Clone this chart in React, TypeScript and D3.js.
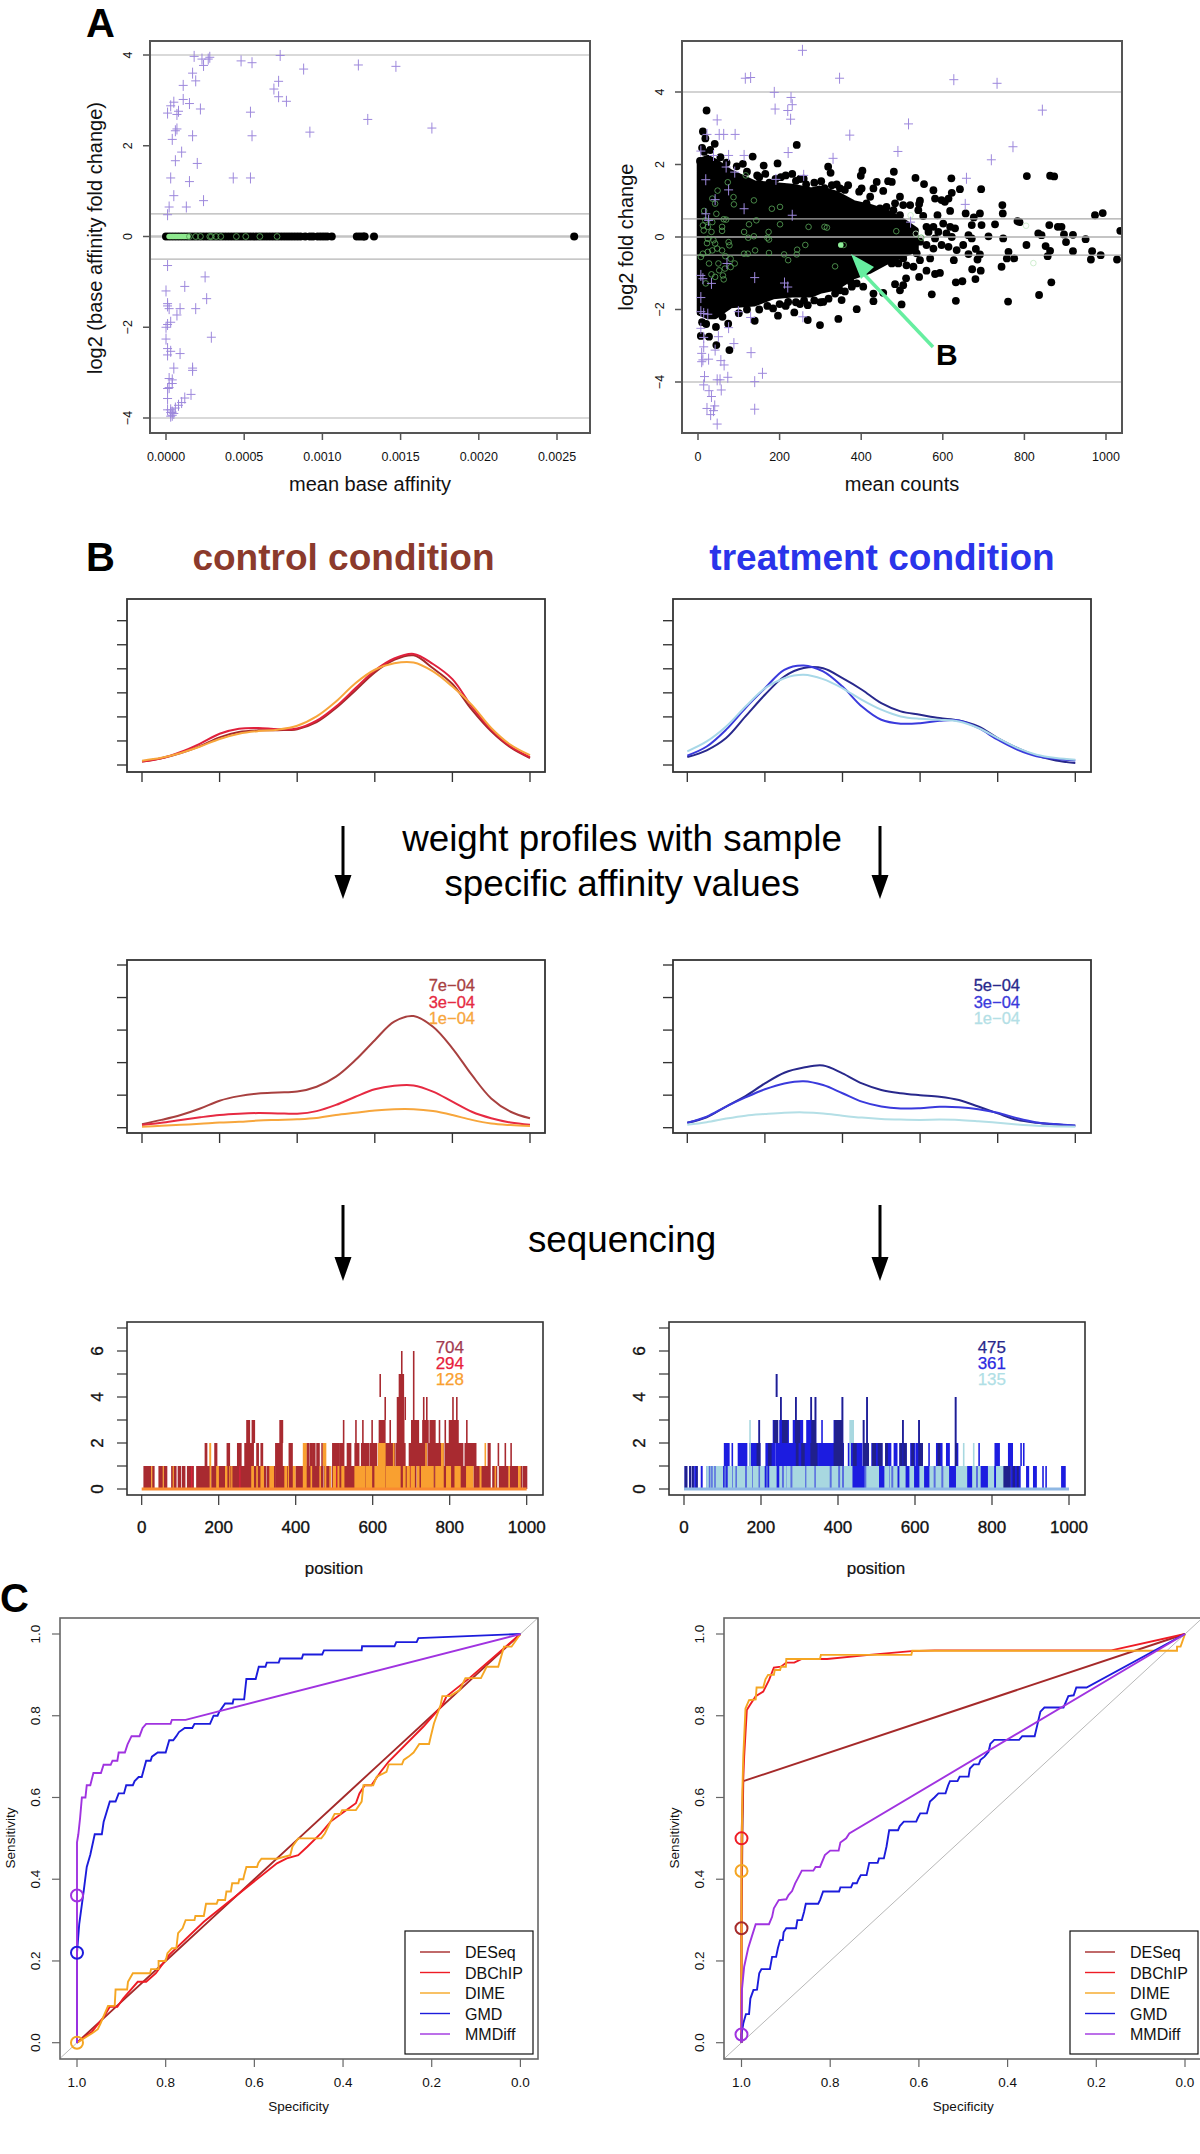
import * as d3 from "d3";

const FONT = "'Liberation Sans', Arial, sans-serif";

// panel A, left: log2 base affinity fold change vs mean base affinity
const affinityPlus = [
  [.00018,3.97],[.00023,3.91],[.00024,3.77],[.00027,3.91],[.00028,3.95],[.00048,3.87],[.00055,3.83],[.00073,3.99],
  [.00088,3.69],[.00123,3.78],[.00147,3.75],[.00017,3.60],[.00019,3.43],[.00011,3.33],[.00072,3.42],[.00069,3.25],
  [.00072,3.08],[.00077,2.98],[.00011,3.02],[.00015,2.93],[.00005,2.96],[.00003,2.88],[.00022,2.81],[.00001,2.72],
  [.00007,2.69],[.00008,2.76],[.00054,2.74],[.00129,2.58],[.00007,2.37],[.00006,2.33],[.0017,2.39],[.00092,2.30],
  [.00017,2.22],[.00055,2.22],[.00004,2.14],[.0001,1.86],[.00006,1.67],[.0002,1.61],[.00003,1.29],[.00043,1.29],
  [.00054,1.29],[.00015,1.21],[.00005,.90],[.00024,.79],[.00002,.65],[.00013,.65],[.00001,.48],
  [.00001,-.64],[.00025,-.89],[.00012,-1.10],[0,-1.20],[.00026,-1.37],[.00001,-1.48],[.00001,-1.53],[.00002,-1.59],
  [.00009,-1.59],[.00019,-1.59],[.00007,-1.73],[.00003,-1.89],[.00001,-1.94],[0,-2.0],[.00029,-2.22],[0,-2.26],
  [.00001,-2.47],[.00003,-2.53],[.00009,-2.58],[.00001,-2.61],[.00005,-2.90],[.00017,-2.90],[.00017,-2.95],
  [.00002,-3.13],[.00004,-3.16],[.00004,-3.24],[.00002,-3.33],[.00001,-3.35],[.00001,-3.57],[.00016,-3.48],
  [.00012,-3.56],[.0001,-3.66],[.00008,-3.72],[.00006,-3.78],[.00001,-3.82],[.00003,-3.82],[.00004,-3.87],
  [.00005,-3.90],[.00003,-3.88],[.00004,-3.94],[.00003,-3.96],
];
const affinityBlack = [
  0,.00002,.00004,.00006,.00008,.0001,.00012,.00014,.00016,.00018,.0002,.00022,.00024,.00026,.00028,.0003,.00032,
  .00034,.00036,.00038,.0004,.00042,.00044,.00046,.00048,.0005,.00052,.00054,.00056,.00058,.0006,.00062,.00064,
  .00066,.00068,.0007,.00072,.00074,.00076,.00078,.0008,.00082,.00084,.00086,.00089,.00092,.00094,.00097,.00099,
  .00101,.00103,.00106,.00122,.00124,.00126,.00127,.00133,.00261,
];
const affinityGreenFill = [.00002,.00003,.00004,.00005,.00006,.00007,.00008,.00009,.0001,.00011,.00012,.00013,.00014];
const affinityGreenOpen = [.00015,.00019,.00022,.00028,.00029,.00032,.00035,.00045,.00051,.0006,.00071];

// panel A, right: log2 fold change vs mean counts
// the cloud is too dense to tell points apart, so its core is an outline read off the picture
const cloudX = [3,24,42,80,137,184,231,278,299,340,381,420,462,503,535];
const cloudTop = [2.1,2.2,2.1,1.8,1.5,1.45,1.4,1.3,1.35,1.2,.95,.85,.7,.45,.2];
const cloudBottom = [-2.1,-2.2,-2.2,-1.9,-1.85,-1.65,-1.6,-1.6,-1.5,-1.4,-1.1,-.95,-.7,-.5,-.35];
const countDots = [
  [21,3.49],[12,2.91],[18,2.72],[10,2.46],[41,2.57],[242,2.54],[134,2.22],[161,1.97],[195,2.03],[110,2.02],
  [319,1.94],[325,1.77],[403,1.83],[399,1.69],[480,1.80],[533,1.63],[621,1.62],[806,1.68],[863,1.69],[873,1.67],
  [554,1.46],[577,1.29],[642,1.32],[694,1.32],[622,1.22],[581,1.06],[597,1.02],[614,1.06],[605,.97],[544,1.0],
  [542,.91],[495,1.11],[483,.93],[503,.88],[520,.88],[475,1.52],[466,1.54],[454,1.27],[438,1.52],[430,1.34],
  [401,1.34],[395,1.25],[368,1.43],[328,1.43],[348,1.34],[422,1.11],[413,.93],[462,.83],[446,.79],[479,.74],
  [495,.60],[540,.74],[552,.58],[587,.60],[618,.72],[656,.65],[691,.65],[746,.88],[747,.65],[676,.54],[783,.44],
  [671,.33],[695,.33],[728,.35],[560,.28],[577,.28],[601,.37],[618,.28],[630,.24],[565,.14],[589,.14],[609,.10],
  [663,.05],[712,.02],[671,-.04],[581,-.04],[622,0],[544,-.13],[560,-.22],[577,-.32],[597,-.22],[614,-.27],[634,-.36],
  [650,-.22],[748,-.04],[805,-.22],[834,.10],[842,.05],[861,.33],[882,.28],[852,-.25],[863,-.38],[857,-.53],[663,-.47],
  [681,-.33],[691,-.48],[685,-.62],[627,-.64],[761,-.41],[757,-.59],[775,-.59],[744,-.82],[672,-.89],[693,-.93],
  [680,-1.16],[648,-1.22],[632,-1.25],[866,-1.25],[836,-1.6],[760,-1.78],[632,-1.76],[573,-1.58],[499,-1.86],
  [389,-1.99],[430,-1.77],[344,-2.26],[299,-2.43],[593,-.99],[581,-1.02],[560,-.93],[542,-1.1],[510,-1.14],[503,-1.33],
  [495,-1.47],[483,-1.3],[454,-1.54],[430,-1.56],[405,-1.37],[389,-1.28],[352,-1.74],[336,-1.56],[307,-1.79],[348,-1.47],
  [377,-1.37],[475,-.73],[491,-.73],[511,-.78],[528,-.82],[544,-.64],[569,-.59],[536,-.45],[503,-.59],[491,-.5],
  [973,.60],[992,.66],[1035,.17],[891,.28],[897,.07],[919,.06],[950,-.06],[902,-.14],[919,-.39],[966,-.39],[963,-.62],
  [987,-.50],[1027,-.62],[788,.41],[269,-2.29],[236,-2.08],[196,-2.17],[139,-2.31],[44,-2.48],[7,-2.73],[27,-2.75],
  [45,-2.98],[77,-3.12],[74,-2.39],[165,1.74],[203,1.65],[231,1.74],[259,1.61],[302,1.54],[184,-1.97],[221,-1.79],
  [269,-1.88],[5,2.1],[15,2.35],[30,2.4],[55,2.2],[70,2.05],[95,1.95],[120,1.8],[145,1.7],[215,1.7],[250,1.6],
  [10,-2.35],[20,-2.4],[60,-2.2],[100,-2.1],[150,-2.0],[215,-1.9],[250,-1.85],[300,-1.8],[150,1.65],[175,1.5],[190,1.6],
  [240,1.55],[265,1.45],[285,1.5],[310,1.35],[340,1.45],[360,1.3],[120,-2.0],[170,-1.9],[200,-1.85],[240,-1.8],
  [260,-1.75],[285,-1.75],[320,-1.7],[360,-1.5],[375,-1.25],
];
const countGreen = [
  [15,.72],[18,.46],[12,.32],[14,.18],[24,.28],[35,.41],[33,.14],[24,-.05],[38,-.09],[22,-.17],[42,-.18],[12,-.46],[24,-.41],
  [35,-.37],[47,-.32],[59,-.37],[67,-.53],[80,-.60],[90,-.73],[80,-.83],[66,-.87],[52,-.92],[42,-1.10],[61,-1.06],[33,-1.03],
  [50,-.73],[19,-1.28],[63,-1.17],[27,-.73],[7,-.55],[48,1.28],[73,1.51],[87,1.10],[88,.90],[35,1.06],[42,.92],[45,.64],
  [63,.49],[69,.48],[59,.28],[59,.17],[75,-.14],[77,-.23],[113,.14],[125,.35],[123,-.02],[137,.02],[137,1.01],[117,1.70],
  [113,-.46],[122,-.46],[140,-.37],[143,.46],[173,.14],[170,-.02],[174,-.07],[174,-.44],[181,.78],[201,.83],[201,.35],
  [211,-.48],[221,-.64],[243,-.35],[242,-.48],[263,-.22],[271,.28],[310,.28],[316,.26],[357,-.22],[336,-.81],[486,.16],[547,-.02],
];
const countGreenPale = [[804,.31],[822,-.72],[521,.6],[534,.09]];
const countGreenFill = [[350,-.22]];
const countPlus = [
  [256,5.15],[116,4.38],[129,4.40],[347,4.38],[627,4.34],[733,4.24],[187,3.99],[228,3.85],[231,3.65],[189,3.53],[220,3.49],
  [227,3.25],[47,3.23],[844,3.50],[516,3.12],[372,2.81],[52,2.83],[63,2.83],[91,2.83],[22,2.83],[772,2.49],[490,2.36],
  [221,2.33],[331,2.17],[719,2.13],[113,2.25],[38,2.25],[75,2.25],[7,2.37],[69,1.93],[90,1.79],[259,1.70],[191,1.59],
  [19,1.58],[658,1.62],[75,1.30],[42,1.03],[655,.90],[113,.78],[231,.60],[19,.64],[26,.46],[521,.41],
  [71,-.73],[7,-1.06],[12,-1.15],[139,-1.12],[212,-1.27],[220,-1.38],[33,-1.28],[7,-1.67],[7,-2.06],[14,-2.11],[24,-2.13],
  [99,-2.06],[129,-2.22],[257,-2.20],[75,-2.50],[7,-2.52],[50,-2.75],[14,-2.77],[88,-2.94],[130,-3.19],[14,-3.03],[9,-3.21],
  [42,-3.12],[12,-3.39],[26,-3.37],[56,-3.41],[64,-3.53],[9,-3.44],[158,-3.76],[73,-3.87],[16,-3.85],[47,-3.94],[54,-3.94],
  [139,-3.99],[14,-4.08],[27,-4.24],[57,-4.22],[33,-4.40],[41,-4.66],[139,-4.75],[22,-4.73],[38,-4.79],[31,-4.90],[47,-5.16],
];

// panel B, profile curves sampled at these positions
const profilePositions = [0,50,100,150,200,250,300,350,400,450,500,550,600,650,700,750,800,850,900,950,1000];
const controlDark = [.14,.28,.50,.79,1.15,1.37,1.44,1.45,1.49,1.78,2.37,3.10,3.85,4.37,4.56,4.02,3.37,2.30,1.40,.73,.29];
const controlRed = [.14,.28,.54,.89,1.30,1.51,1.54,1.49,1.52,1.84,2.43,3.19,3.93,4.43,4.62,4.20,3.57,2.43,1.47,.77,.33];
const controlOrange = [.18,.30,.50,.77,1.08,1.30,1.41,1.47,1.63,2.02,2.64,3.40,3.96,4.23,4.26,3.89,3.26,2.50,1.54,.84,.41];
const treatNavy = [.33,.61,1.12,2.02,2.92,3.68,4.03,4.02,3.61,3.13,2.57,2.23,2.09,1.95,1.85,1.60,1.12,.71,.39,.19,.08];
const treatBlue = [.39,.77,1.47,2.37,3.19,3.96,4.14,3.89,3.26,2.43,1.88,1.72,1.74,1.84,1.85,1.54,1.05,.64,.36,.25,.19];
const treatLight = [.57,.98,1.60,2.43,3.19,3.61,3.75,3.57,3.19,2.71,2.30,2.02,1.92,1.88,1.81,1.54,1.12,.71,.43,.29,.22];
const weightedDark = [.11,.24,.39,.59,.83,.97,1.05,1.08,1.11,1.26,1.57,2.08,2.69,3.26,3.43,3.10,2.44,1.62,.90,.49,.29];
const weightedRed = [.08,.15,.24,.32,.39,.43,.45,.44,.43,.51,.70,.95,1.18,1.29,1.30,1.11,.80,.49,.29,.16,.09];
const weightedOrange = [.03,.06,.09,.12,.16,.18,.22,.24,.26,.30,.39,.46,.53,.57,.57,.51,.39,.24,.13,.08,.05];
const weightedNavy = [.15,.32,.65,.97,1.36,1.69,1.85,1.91,1.67,1.36,1.16,1.06,1.00,.95,.85,.65,.44,.24,.15,.10,.06];
const weightedBlue = [.15,.34,.65,.93,1.18,1.36,1.43,1.31,1.06,.80,.65,.59,.60,.64,.63,.57,.46,.29,.16,.11,.07];
const weightedLight = [.09,.17,.28,.37,.42,.46,.47,.44,.37,.31,.27,.25,.24,.25,.24,.20,.15,.10,.06,.04,.03];

// panel B, read counts: [first position, last position] of the runs that reach each height
const controlReads = [
  [[6,23],[28,32],[45,54],[58,65],[78,89],[95,101],[106,112],[119,134],[143,151],[153,177],[182,216],[221,300],[303,322],[326,345],[348,372],[378,398],[402,440],[444,470],[474,490],[495,640],[644,648],[652,700],[704,712],[716,760],[763,860],[864,868],[870,879],[883,905],[912,922],[929,952],[958,976],[983,987],[991,1000]],
  [[165,169],[190,195],[222,228],[249,258],[268,290],[299,303],[310,314],[348,365],[383,391],[429,433],[437,442],[444,450],[455,461],[468,469],[496,513],[515,525],[534,543],[554,564],[571,589],[593,610],[615,658],[662,684],[695,740],[744,783],[788,834],[840,857],[859,868],[900,905],[926,927],[944,945],[959,960]],
  [[273,280],[287,293],[359,366],[524,525],[556,557],[574,575],[598,599],[617,632],[645,646],[664,681],[701,719],[730,744],[749,762],[773,774],[788,789],[799,822],[844,845]],
  [[632,633],[664,680],[684,685],[706,707],[732,733],[740,741],[808,809],[818,819]],
  [[619,620],[669,680],[706,707]],
  [[675,676],[706,707]],
];
const controlRedReads = [[[130,130],[255,255],[500,505],[610,612],[700,702]]];
const controlOrangeReads = [
  [[26,26],[56,56],[82,82],[178,179],[195,199],[218,221],[229,229],[234,234],[286,290],[299,300],[310,316],[333,342],[372,376],[381,381],[394,398],[420,427],[440,441],[463,464],[476,478],[489,490],[498,503],[510,512],[520,525],[554,580],[584,597],[606,632],[636,671],[680,684],[690,695],[700,708],[716,720],[727,757],[764,783],[792,802],[814,827],[844,860],[879,881],[918,919],[954,955],[979,983]],
  [[177,179],[420,427],[472,478],[615,632],[654,655],[738,739],[779,783],[892,893]],
];
const treatReads = [
  [[3,7],[15,17],[22,24],[28,30],[33,34],[45,47],[59,720],[722,800],[804,847],[851,873],[890,895],[908,915],[932,933],[940,941],[981,990]],
  [[105,117],[125,126],[141,163],[171,197],[213,236],[239,290],[293,349],[352,388],[390,414],[427,462],[466,479],[488,514],[524,537],[546,553],[561,577],[589,600],[604,619],[636,637],[656,670],[682,689],[705,711],[766,767],[808,819],[843,853],[875,876],[882,883]],
  [[195,196],[232,243],[249,271],[284,308],[319,342],[358,359],[390,412],[466,467],[475,476],[568,569],[610,611],[705,706]],
  [[251,252],[290,291],[330,331],[341,342],[411,412],[475,476],[705,706]],
  [[240,241]],
];
const treatNavyReads = [
  [[3,7],[15,17],[22,24],[33,34],[828,847],[855,858],[866,868]],
  [[171,172],[190,197],[220,226],[292,296],[306,312],[330,345],[390,413],[440,447],[466,479],[490,497],[505,514],[524,528],[561,566],[571,577],[592,596],[610,619],[660,664],[705,708]],
  [[195,196],[234,243],[256,268],[290,300],[332,342],[392,412],[466,467],[475,476],[568,569],[610,611],[705,706]],
  [[251,252],[290,291],[330,331],[341,342],[411,412],[475,476],[705,706]],
  [[240,241]],
];
const treatLightReads = [
  [[59,87],[89,100],[115,124],[128,144],[147,176],[180,208],[223,239],[249,265],[268,314],[319,436],[474,505],[522,531],[535,553],[561,574],[587,596],[613,622],[639,687],[708,734],[750,769],[791,804],[812,828]],
  [[171,172],[431,432],[726,727],[752,753]],
  [[171,172],[431,440]],
];
const treatBlueInLight = [[[66,67],[72,73],[80,81],[106,108],[135,136],[160,162],[195,196],[215,216],[256,258],[278,280],[340,341],[380,382],[402,404],[412,414],[470,472],[540,542],[650,652],[670,672],[760,762]]];

// panel C, ROC curves as [specificity, sensitivity]
const rocLeftDeseq = [[1,0],[.9,.1],[.8,.2],[.7,.3],[.6,.4],[.5,.5],[.4,.6],[.3,.7],[.2,.8],[.1,.9],[0,1]];
const rocLeftDbchip = [[1,0],[.966,.027],[.939,.064],[.926,.088],[.909,.088],[.896,.108],[.863,.149],[.844,.149],[.822,.17],[.792,.215],[.714,.296],[.549,.439],[.527,.451],[.501,.459],[.48,.48],[.45,.512],[.428,.541],[.393,.569],[.371,.586],[.363,.61],[.351,.63],[.336,.63],[.315,.663],[.297,.688],[.219,.773],[.176,.826],[.167,.847],[.115,.892],[.037,.965],[0,1]];
const rocLeftDime = [[1,0],[.966,.023],[.953,.033],[.947,.047],[.93,.09],[.915,.09],[.913,.13],[.887,.13],[.885,.149],[.874,.17],[.835,.17],[.833,.18],[.816,.18],[.816,.2],[.8,.2],[.796,.219],[.786,.231],[.776,.231],[.772,.268],[.762,.28],[.755,.30],[.735,.30],[.733,.31],[.714,.31],[.709,.34],[.685,.34],[.682,.349],[.666,.349],[.663,.37],[.653,.37],[.65,.39],[.636,.39],[.634,.40],[.625,.40],[.623,.41],[.618,.43],[.594,.43],[.591,.44],[.584,.45],[.549,.45],[.519,.459],[.514,.48],[.501,.50],[.449,.50],[.441,.512],[.428,.541],[.419,.56],[.406,.56],[.402,.569],[.371,.569],[.358,.59],[.354,.63],[.332,.63],[.324,.651],[.302,.663],[.297,.681],[.267,.681],[.263,.692],[.252,.70],[.241,.71],[.228,.731],[.206,.731],[.202,.75],[.195,.781],[.18,.826],[.176,.848],[.159,.848],[.137,.863],[.124,.892],[.089,.892],[.076,.92],[.05,.92],[.037,.969],[.02,.969],[0,1]];
const rocLeftGmd = [[1,0],[1,.22],[.995,.29],[.985,.37],[.978,.43],[.97,.46],[.96,.51],[.944,.51],[.94,.54],[.926,.59],[.913,.59],[.906,.61],[.894,.61],[.889,.63],[.874,.63],[.87,.64],[.861,.65],[.854,.65],[.844,.69],[.834,.69],[.831,.70],[.818,.71],[.80,.71],[.792,.74],[.783,.74],[.776,.75],[.77,.76],[.757,.77],[.74,.77],[.735,.78],[.70,.78],[.692,.80],[.683,.80],[.679,.81],[.666,.83],[.649,.83],[.647,.84],[.623,.84],[.618,.89],[.597,.89],[.59,.92],[.575,.92],[.572,.93],[.545,.93],[.542,.94],[.493,.94],[.49,.95],[.447,.95],[.443,.96],[.358,.96],[.357,.97],[.284,.97],[.28,.98],[.234,.98],[.23,.99],[0,1]];
const rocLeftMmdiff = [[1,0],[1,.36],[1,.49],[.997,.51],[.993,.55],[.989,.60],[.981,.60],[.978,.63],[.97,.63],[.963,.66],[.946,.66],[.94,.68],[.924,.68],[.92,.69],[.909,.69],[.906,.71],[.892,.71],[.886,.73],[.877,.75],[.859,.75],[.852,.77],[.844,.78],[.789,.78],[.786,.79],[.755,.79],[0,1]];

const rocRightDeseq = [[1,0],[1,.28],[.998,.5],[.996,.64],[0,1]];
const rocRightDbchip = [[1,0],[1,.5],[.997,.618],[.994,.70],[.988,.814],[.981,.826],[.968,.848],[.951,.859],[.938,.887],[.927,.918],[.911,.92],[.899,.93],[.881,.93],[.864,.939],[.807,.939],[.712,.949],[.617,.958],[.565,.96],[.166,.96],[0,1]];
const rocRightDime = [[1,0],[1,.42],[.998,.618],[.996,.70],[.991,.818],[.983,.838],[.968,.84],[.966,.869],[.951,.869],[.946,.889],[.94,.90],[.927,.90],[.925,.912],[.913,.912],[.911,.92],[.90,.92],[.899,.939],[.823,.939],[.821,.949],[.617,.949],[.615,.959],[.018,.959],[.018,.969],[.01,.969],[0,1]];
const rocRightGmd = [[1,0],[1,.02],[.996,.047],[.99,.07],[.983,.07],[.98,.108],[.973,.129],[.965,.13],[.96,.17],[.955,.18],[.936,.18],[.931,.21],[.922,.21],[.918,.231],[.913,.251],[.907,.251],[.905,.27],[.899,.28],[.877,.28],[.874,.30],[.864,.30],[.859,.32],[.855,.34],[.827,.34],[.823,.349],[.816,.37],[.78,.37],[.777,.38],[.753,.38],[.749,.39],[.74,.39],[.736,.40],[.731,.41],[.718,.41],[.712,.44],[.693,.44],[.69,.451],[.679,.451],[.673,.48],[.667,.52],[.647,.52],[.643,.53],[.634,.541],[.606,.541],[.602,.551],[.597,.561],[.582,.561],[.575,.59],[.565,.60],[.556,.61],[.54,.61],[.534,.63],[.53,.64],[.513,.64],[.508,.651],[.488,.651],[.485,.671],[.476,.681],[.465,.681],[.461,.692],[.452,.70],[.443,.712],[.439,.731],[.43,.741],[.374,.741],[.367,.75],[.339,.75],[.326,.81],[.317,.82],[.274,.82],[.263,.848],[.251,.85],[.245,.869],[.222,.869],[0,1]];
const rocRightMmdiff = [[1,0],[1,.02],[.999,.13],[.994,.186],[.985,.231],[.977,.259],[.968,.29],[.938,.29],[.931,.308],[.927,.329],[.916,.349],[.899,.351],[.894,.361],[.886,.371],[.879,.39],[.873,.402],[.864,.421],[.838,.421],[.833,.43],[.823,.43],[.812,.459],[.80,.47],[.781,.47],[.777,.49],[.764,.50],[.757,.512],[0,1]];

const rocNames = ["DESeq", "DBChIP", "DIME", "GMD", "MMDiff"];
const rocColors = ["#a52a2a", "#ee1c25", "#f5a623", "#1c1cdc", "#a033e0"];

const PLUS = "#9d88dc";

function fmt4(v: number) {
  return v.toFixed(4);
}

function RotText({ x, y, size, children, fill = "#111", heavy = 0 }: any) {
  return (
    <text
      transform={`translate(${x},${y}) rotate(-90)`}
      textAnchor="middle"
      fontFamily={FONT}
      fontSize={size}
      fill={fill}
      stroke={heavy ? fill : "none"}
      strokeWidth={heavy}
    >
      {children}
    </text>
  );
}

function Label({ x, y, size, children, fill = "#111", anchor = "middle", weight = "normal", heavy = 0 }: any) {
  return (
    <text
      x={x}
      y={y}
      textAnchor={anchor}
      fontFamily={FONT}
      fontSize={size}
      fill={fill}
      fontWeight={weight}
      stroke={heavy ? fill : "none"}
      strokeWidth={heavy}
    >
      {children}
    </text>
  );
}

function Frame({ x0, x1, y0, y1, xs, ys, xTicks, yTicks, tick = 7, stroke = "#555", width = 2 }: any) {
  return (
    <g stroke={stroke} strokeWidth={width} fill="none">
      <rect x={x0} y={y0} width={x1 - x0} height={y1 - y0} />
      {xTicks.map((v: number) => (
        <line key={v} x1={xs(v)} x2={xs(v)} y1={y1} y2={y1 + tick} strokeWidth={width * 0.75} />
      ))}
      {yTicks.map((v: number) => (
        <line key={v} y1={ys(v)} y2={ys(v)} x1={x0} x2={x0 - tick} strokeWidth={width * 0.75} />
      ))}
    </g>
  );
}

function PlusMarks({ points, xs, ys }: any) {
  const d = points
    .map((p: number[]) => `M${xs(p[0]) - 4.5},${ys(p[1])}h9M${xs(p[0])},${ys(p[1]) - 5.5}v11`)
    .join("");
  return <path d={d} stroke={PLUS} strokeWidth={1} fill="none" />;
}

function AffinityPanel() {
  const xs = d3.scaleLinear().domain([0, 0.0025]).range([166, 557]);
  const ys = d3.scaleLinear().domain([-4, 4]).range([418, 55]);
  const guides = [4, 0.5, -0.5, -4];
  return (
    <g>
      {guides.map((v) => (
        <line key={v} x1={150} x2={590} y1={ys(v)} y2={ys(v)} stroke="#b4b4b4" strokeWidth={1.2} />
      ))}
      <line x1={150} x2={590} y1={ys(0)} y2={ys(0)} stroke="#c4c4c4" strokeWidth={2.5} />
      {affinityBlack.map((v, i) => (
        <circle key={i} cx={xs(v)} cy={ys(0)} r={4} fill="#000" />
      ))}
      {affinityGreenFill.map((v, i) => (
        <circle key={i} cx={xs(v)} cy={ys(0)} r={2.8} fill="#8ee88e" />
      ))}
      {affinityGreenOpen.map((v, i) => (
        <circle key={i} cx={xs(v)} cy={ys(0)} r={2.9} fill="none" stroke="#58a058" strokeWidth={0.9} />
      ))}
      <PlusMarks points={affinityPlus} xs={xs} ys={ys} />
      <Frame x0={150} x1={590} y0={41} y1={433} xs={xs} ys={ys} xTicks={[0, .0005, .001, .0015, .002, .0025]} yTicks={[-4, -2, 0, 2, 4]} />
      {[0, .0005, .001, .0015, .002, .0025].map((v) => (
        <Label key={v} x={xs(v)} y={461} size={12.5}>{fmt4(v)}</Label>
      ))}
      {[-4, -2, 0, 2, 4].map((v) => (
        <RotText key={v} x={132} y={ys(v)} size={12.5}>{v < 0 ? `−${-v}` : v}</RotText>
      ))}
      <Label x={370} y={491} size={20}>mean base affinity</Label>
      <RotText x={102} y={238} size={20}>log2 (base affinity fold change)</RotText>
    </g>
  );
}

function CountsPanel() {
  const xs = d3.scaleLinear().domain([0, 1000]).range([698, 1106]);
  const ys = d3.scaleLinear().domain([-4, 4]).range([382, 92]);
  const guides = [4, 0.5, -0.5, -4];
  const cloud = d3
    .area<number>()
    .x((d) => xs(d))
    .y0((_, i) => ys(cloudBottom[i]))
    .y1((_, i) => ys(cloudTop[i]))
    .curve(d3.curveLinear);
  return (
    <g>
      <defs>
        <clipPath id="countsClip">
          <rect x={682} y={41} width={440} height={392} />
        </clipPath>
      </defs>
      <g clipPath="url(#countsClip)">
        <path d={cloud(cloudX) || ""} fill="#000" stroke="#000" strokeWidth={5} strokeLinejoin="round" />
        {countDots.map((p, i) => (
          <circle key={i} cx={xs(p[0])} cy={ys(p[1])} r={3.9} fill="#000" />
        ))}
        {guides.map((v) => (
          <line key={v} x1={682} x2={1122} y1={ys(v)} y2={ys(v)} stroke="#a8a8a8" strokeWidth={1.2} />
        ))}
        <line x1={682} x2={1122} y1={ys(0)} y2={ys(0)} stroke="#b0b0b0" strokeWidth={1.6} />
        {countGreen.map((p, i) => (
          <circle key={i} cx={xs(p[0])} cy={ys(p[1])} r={2.8} fill="none" stroke="#5aa85a" strokeWidth={0.8} />
        ))}
        {countGreenPale.map((p, i) => (
          <circle key={i} cx={xs(p[0])} cy={ys(p[1])} r={2.8} fill="none" stroke="#c4eac4" strokeWidth={0.8} />
        ))}
        {countGreenFill.map((p, i) => (
          <circle key={i} cx={xs(p[0])} cy={ys(p[1])} r={2.8} fill="#8ff09a" />
        ))}
        <PlusMarks points={countPlus} xs={xs} ys={ys} />
      </g>
      <Frame x0={682} x1={1122} y0={41} y1={433} xs={xs} ys={ys} xTicks={[0, 200, 400, 600, 800, 1000]} yTicks={[-4, -2, 0, 2, 4]} />
      {[0, 200, 400, 600, 800, 1000].map((v) => (
        <Label key={v} x={xs(v)} y={461} size={12.5}>{v}</Label>
      ))}
      {[-4, -2, 0, 2, 4].map((v) => (
        <RotText key={v} x={664} y={ys(v)} size={12.5}>{v < 0 ? `−${-v}` : v}</RotText>
      ))}
      <Label x={902} y={491} size={20}>mean counts</Label>
      <RotText x={633} y={237} size={20}>log2 fold change</RotText>
      {/* annotation arrow to the highlighted region */}
      <line x1={933} y1={347} x2={860} y2={270} stroke="#66eea0" strokeWidth={3.5} />
      <path d="M851,254 L874,267 L861,279 Z" fill="#66eea0" />
      <Label x={936} y={365} size={30} fill="#000" anchor="start" weight="bold">B</Label>
    </g>
  );
}

function ProfilePanel({ x0, xTick0, y0, y1, yTop, yZero, yMax, series, labels, labelX, labelY }: any) {
  const xs = d3.scaleLinear().domain([0, 1000]).range([xTick0, xTick0 + 388]);
  const ys = d3.scaleLinear().domain([0, yMax]).range([yZero, yTop]);
  const line = d3
    .line<number>()
    .x((_, i) => xs(profilePositions[i]))
    .y((d) => ys(d))
    .curve(d3.curveCatmullRom);
  return (
    <g>
      <Frame
        x0={x0}
        x1={x0 + 418}
        y0={y0}
        y1={y1}
        xs={xs}
        ys={ys}
        xTicks={[0, 200, 400, 600, 800, 1000]}
        yTicks={d3.range(0, yMax + 1)}
        tick={10}
        stroke="#333"
        width={1.8}
      />
      {series.map((s: any, i: number) => (
        <path key={i} d={line(s.values) || ""} fill="none" stroke={s.color} strokeWidth={2} />
      ))}
      {labels &&
        labels.map((l: any, i: number) => (
          <Label key={i} x={labelX} y={labelY + i * 16.5} size={16.5} anchor="end" fill={l.color} heavy={0.3}>
            {l.text}
          </Label>
        ))}
    </g>
  );
}

function ReadLevels({ levels, xs, ys, color }: any) {
  return (
    <g fill={color}>
      {levels.map((runs: number[][], h: number) =>
        runs.map((r, i) => (
          <rect
            key={`${h}-${i}`}
            x={xs(r[0]) - 0.6}
            width={Math.max(xs(r[1]) - xs(r[0]) + 1.2, 1.2)}
            y={ys(h + 1)}
            height={ys(h) - ys(h + 1)}
          />
        ))
      )}
    </g>
  );
}

function ReadsPanel({ x0, xTick0, layers, base, labels, labelX }: any) {
  const xs = d3.scaleLinear().domain([0, 1000]).range([xTick0, xTick0 + 385]);
  const ys = d3.scaleLinear().domain([0, 6]).range([1489, 1351]);
  const yTicks = [0, 1, 2, 3, 4, 5, 6, 7];
  const xTicks = [0, 200, 400, 600, 800, 1000];
  return (
    <g>
      {layers.map((l: any, i: number) => (
        <ReadLevels key={i} levels={l.levels} xs={xs} ys={ys} color={l.color} />
      ))}
      <line x1={xs(0)} x2={xs(1000)} y1={ys(0)} y2={ys(0)} stroke={base} strokeWidth={3} />
      <Frame x0={x0} x1={x0 + 416} y0={1322} y1={1495} xs={xs} ys={ys} xTicks={xTicks} yTicks={yTicks} tick={10} stroke="#333" width={1.6} />
      {xTicks.map((v) => (
        <Label key={v} x={xs(v)} y={1533} size={17} heavy={0.35}>{v}</Label>
      ))}
      {[0, 2, 4, 6].map((v) => (
        <RotText key={v} x={x0 - 24} y={ys(v)} size={17} heavy={0.35}>{v}</RotText>
      ))}
      <Label x={x0 + 207} y={1574} size={17} heavy={0.2}>position</Label>
      {labels.map((l: any, i: number) => (
        <Label key={i} x={labelX} y={1353 + i * 16} size={17} anchor="end" fill={l.color} heavy={0.25}>
          {l.text}
        </Label>
      ))}
    </g>
  );
}

function RocPanel({ x0, x1, xOne, xZero, series, markers, legendX, clipId }: any) {
  const xs = d3.scaleLinear().domain([1, 0]).range([xOne, xZero]);
  const ys = d3.scaleLinear().domain([0, 1]).range([2042.7, 1634]);
  const ticks = [0, 0.2, 0.4, 0.6, 0.8, 1];
  const line = d3
    .line<number[]>()
    .x((d) => xs(d[0]))
    .y((d) => ys(d[1]));
  return (
    <g>
      <defs>
        <clipPath id={clipId}>
          <rect x={x0} y={1618} width={x1 - x0} height={441} />
        </clipPath>
      </defs>
      <g clipPath={`url(#${clipId})`}>
        <line x1={xs(1.2)} y1={ys(-0.2)} x2={xs(-0.2)} y2={ys(1.2)} stroke="#b8b8b8" strokeWidth={1} />
      </g>
      {series.map((s: number[][], i: number) => (
        <path key={i} d={line(s) || ""} fill="none" stroke={rocColors[i]} strokeWidth={1.9} />
      ))}
      {markers.map((m: any, i: number) => (
        <circle key={i} cx={xs(1)} cy={ys(m.value)} r={6} fill="none" stroke={rocColors[m.curve]} strokeWidth={2} />
      ))}
      <Frame x0={x0} x1={x1} y0={1618} y1={2059} xs={xs} ys={ys} xTicks={ticks} yTicks={ticks} tick={8} stroke="#666" width={1.6} />
      {ticks.map((v) => (
        <Label key={v} x={xs(v)} y={2087} size={13.5}>{v.toFixed(1)}</Label>
      ))}
      {ticks.map((v) => (
        <RotText key={v} x={x0 - 20} y={ys(v)} size={13.5}>{v.toFixed(1)}</RotText>
      ))}
      <Label x={(xOne + xZero) / 2} y={2111} size={13.5}>Specificity</Label>
      <RotText x={x0 - 45} y={1838} size={13.5}>Sensitivity</RotText>
      <rect x={legendX} y={1931} width={128} height={123} fill="#fff" stroke="#111" strokeWidth={1.2} />
      {rocNames.map((name, i) => {
        const rowY = 1952 + i * 20.5;
        return (
          <g key={name}>
            <line x1={legendX + 15} x2={legendX + 45} y1={rowY} y2={rowY} stroke={rocColors[i]} strokeWidth={1.4} />
            <Label x={legendX + 60} y={rowY + 6} size={16} anchor="start">{name}</Label>
          </g>
        );
      })}
    </g>
  );
}

function DownArrow({ x, y0, y1 }: any) {
  return (
    <g>
      <line x1={x} x2={x} y1={y0} y2={y1 - 16} stroke="#000" strokeWidth={3} />
      <path d={`M${x - 8.5},${y1 - 24} L${x + 8.5},${y1 - 24} L${x},${y1} Z`} fill="#000" />
    </g>
  );
}

export default function App() {
  return (
    <svg
      width={1200}
      height={2154}
      style={{ position: "absolute", left: 0, top: 0, background: "#fff" }}
    >
      <Label x={86} y={37} size={40} fill="#000" anchor="start" weight="bold">A</Label>
      <AffinityPanel />
      <CountsPanel />

      <Label x={86} y={571} size={40} fill="#000" anchor="start" weight="bold">B</Label>
      <Label x={343.5} y={570} size={37} fill="#8b3a2c" weight="bold">control condition</Label>
      <Label x={882} y={570} size={37} fill="#2a34ea" weight="bold">treatment condition</Label>

      <ProfilePanel
        x0={127} xTick0={142} y0={599} y1={772} yTop={620.7} yZero={765} yMax={6}
        series={[
          { values: controlDark, color: "#a52a2a" },
          { values: controlRed, color: "#e0203c" },
          { values: controlOrange, color: "#f7a63c" },
        ]}
      />
      <ProfilePanel
        x0={673} xTick0={687.3} y0={599} y1={772} yTop={620.7} yZero={765} yMax={6}
        series={[
          { values: treatNavy, color: "#28288c" },
          { values: treatBlue, color: "#3a3adc" },
          { values: treatLight, color: "#a8d8e8" },
        ]}
      />

      <DownArrow x={343} y0={826} y1={899} />
      <DownArrow x={880} y0={826} y1={899} />
      <Label x={622} y={851} size={36.8} fill="#000">weight profiles with sample</Label>
      <Label x={622} y={896} size={36.8} fill="#000">specific affinity values</Label>

      <ProfilePanel
        x0={127} xTick0={142} y0={960} y1={1133} yTop={965} yZero={1127.7} yMax={5}
        series={[
          { values: weightedDark, color: "#a8403f" },
          { values: weightedRed, color: "#e62a42" },
          { values: weightedOrange, color: "#f7a63c" },
        ]}
        labels={[
          { text: "7e−04", color: "#a8403f" },
          { text: "3e−04", color: "#e62a42" },
          { text: "1e−04", color: "#f7a63c" },
        ]}
        labelX={475}
        labelY={991}
      />
      <ProfilePanel
        x0={673} xTick0={687.3} y0={960} y1={1133} yTop={965} yZero={1127.7} yMax={5}
        series={[
          { values: weightedNavy, color: "#28288c" },
          { values: weightedBlue, color: "#3a3adc" },
          { values: weightedLight, color: "#b4dfe6" },
        ]}
        labels={[
          { text: "5e−04", color: "#28288c" },
          { text: "3e−04", color: "#3a3adc" },
          { text: "1e−04", color: "#b4dfe6" },
        ]}
        labelX={1020}
        labelY={991}
      />

      <DownArrow x={343} y0={1205} y1={1281} />
      <DownArrow x={880} y0={1205} y1={1281} />
      <Label x={622} y={1252} size={36.8} fill="#000">sequencing</Label>

      <ReadsPanel
        x0={127} xTick0={141.7}
        layers={[
          { levels: controlReads, color: "#a82a30" },
          { levels: controlRedReads, color: "#e0203c" },
          { levels: controlOrangeReads, color: "#f9a030" },
        ]}
        base="#f98a30"
        labels={[
          { text: "704", color: "#a23a50" },
          { text: "294", color: "#e8203c" },
          { text: "128", color: "#f9a030" },
        ]}
        labelX={464}
      />
      <ReadsPanel
        x0={669} xTick0={684}
        layers={[
          { levels: treatReads, color: "#1c1ce0" },
          { levels: treatNavyReads, color: "#20208c" },
          { levels: treatLightReads, color: "#a8d8e0" },
          { levels: treatBlueInLight, color: "#5a6ee0" },
        ]}
        base="#8fb8e4"
        labels={[
          { text: "475", color: "#28288c" },
          { text: "361", color: "#2a2ae0" },
          { text: "135", color: "#b0dfe6" },
        ]}
        labelX={1006}
      />

      <Label x={0} y={1612} size={40} fill="#000" anchor="start" weight="bold">C</Label>
      <RocPanel
        x0={60} x1={538} xOne={77} xZero={520.4} legendX={405} clipId="rocA"
        series={[rocLeftDeseq, rocLeftDbchip, rocLeftDime, rocLeftGmd, rocLeftMmdiff]}
        markers={[
          { value: 0, curve: 2 },
          { value: 0.22, curve: 3 },
          { value: 0.36, curve: 4 },
        ]}
      />
      <RocPanel
        x0={724} x1={1203} xOne={741.5} xZero={1185} legendX={1070} clipId="rocB"
        series={[rocRightDeseq, rocRightDbchip, rocRightDime, rocRightGmd, rocRightMmdiff]}
        markers={[
          { value: 0.5, curve: 1 },
          { value: 0.42, curve: 2 },
          { value: 0.28, curve: 0 },
          { value: 0.02, curve: 4 },
        ]}
      />
    </svg>
  );
}
